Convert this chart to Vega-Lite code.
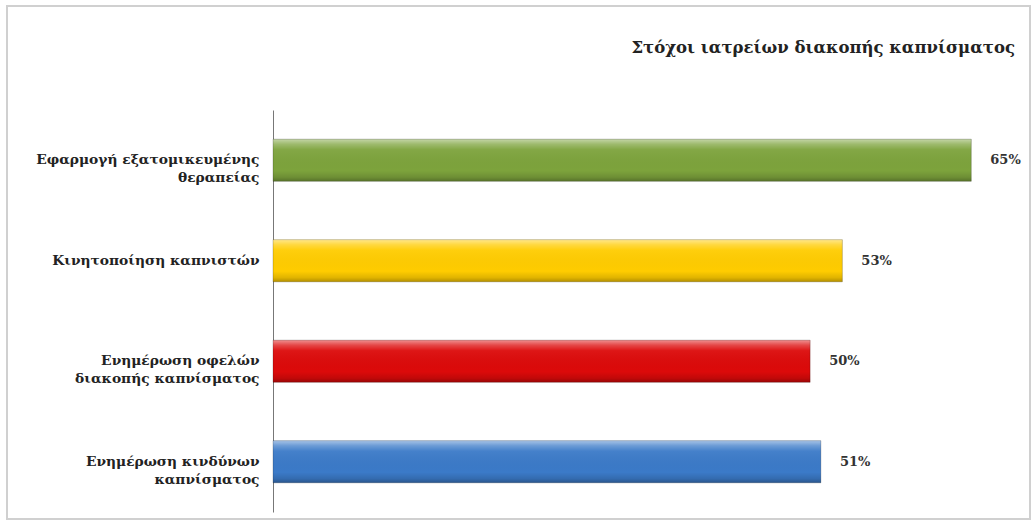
{
  "$schema": "https://vega.github.io/schema/vega-lite/v6.json",
  "width": 1023,
  "height": 513,
  "autosize": "none",
  "padding": {"left": 7, "top": 6, "right": 3, "bottom": 5},
  "background": "white",
  "title": {
    "text": "Στόχοι ιατρείων διακοπής καπνίσματος",
    "anchor": "end",
    "frame": "group",
    "orient": "top",
    "offset": -50,
    "dx": -15,
    "font": "DejaVu Serif",
    "fontSize": 16.5,
    "fontWeight": "bold",
    "color": "#222222"
  },
  "data": {
    "values": [
      {"key": "a", "pct": 0.65},
      {"key": "b", "pct": 0.53},
      {"key": "c", "pct": 0.50},
      {"key": "d", "pct": 0.51}
    ]
  },
  "encoding": {
    "y": {
      "field": "key",
      "type": "nominal",
      "sort": null,
      "scale": {"range": [104, 506], "paddingInner": 0.58, "paddingOuter": 0.29},
      "axis": {
        "title": null,
        "offset": -266,
        "ticks": false,
        "domainColor": "#777777",
        "domainWidth": 1,
        "labelExpr": "datum.value == 'a' ? ['Εφαρμογή εξατομικευμένης', 'θεραπείας'] : datum.value == 'b' ? 'Κινητοποίηση καπνιστών' : datum.value == 'c' ? ['Ενημέρωση οφελών', 'διακοπής καπνίσματος'] : ['Ενημέρωση κινδύνων', 'καπνίσματος']",
        "labelFont": "DejaVu Serif",
        "labelFontSize": 13.8,
        "labelFontWeight": "bold",
        "labelColor": "#222222",
        "labelPadding": 14,
        "labelLineHeight": 18,
        "labelLimit": 260
      }
    },
    "x": {
      "field": "pct",
      "type": "quantitative",
      "scale": {"domain": [0, 0.7], "range": [266, 1018], "nice": false},
      "axis": null
    }
  },
  "layer": [
    {
      "mark": {"type": "bar"},
      "encoding": {
        "color": {
          "field": "key",
          "type": "nominal",
          "scale": {"domain": ["a", "b", "c", "d"], "range": ["#7da33c", "#ffcc00", "#dc0a0a", "#3b7ac8"]},
          "legend": null
        }
      }
    },
    {
      "mark": {
        "type": "bar",
        "stroke": "#000000",
        "strokeOpacity": 0.2,
        "strokeWidth": 1,
        "color": {
          "gradient": "linear",
          "x1": 0, "y1": 0, "x2": 0, "y2": 1,
          "stops": [
            {"offset": 0, "color": "rgba(255,255,255,0.55)"},
            {"offset": 0.12, "color": "rgba(255,255,255,0.25)"},
            {"offset": 0.25, "color": "rgba(255,255,255,0.05)"},
            {"offset": 0.75, "color": "rgba(0,0,0,0.0)"},
            {"offset": 0.9, "color": "rgba(0,0,0,0.12)"},
            {"offset": 1, "color": "rgba(0,0,0,0.3)"}
          ]
        }
      }
    },
    {
      "mark": {
        "type": "text",
        "align": "left",
        "baseline": "middle",
        "dx": 19,
        "font": "DejaVu Serif",
        "fontSize": 13,
        "fontWeight": "bold",
        "color": "#333333"
      },
      "encoding": {
        "text": {"field": "pct", "type": "quantitative", "format": ".0%"}
      }
    }
  ],
  "config": {
    "view": {"stroke": "#d0d0d0", "strokeWidth": 2}
  }
}
